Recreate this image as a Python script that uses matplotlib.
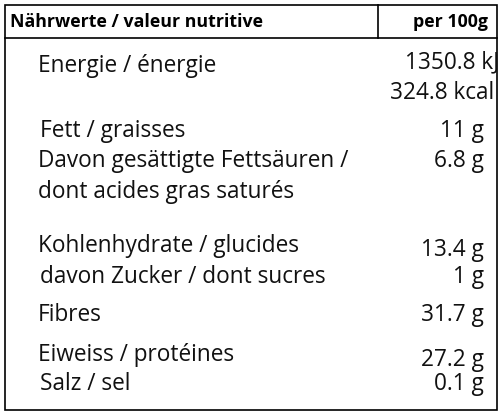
import matplotlib.pyplot as plt
from matplotlib.patches import Rectangle

plt.rcParams['font.family'] = ['Open Sans', 'DejaVu Sans']

header_left = "Nährwerte / valeur nutritive"
header_right = "per 100g"

labels = ["Energie / énergie", "Fett / graisses", "Davon gesättigte Fettsäuren /",
          "dont acides gras saturés", "Kohlenhydrate / glucides",
          "davon Zucker / dont sucres", "Fibres", "Eiweiss / protéines", "Salz / sel"]
label_x = [38, 40, 38, 38, 38, 40, 38, 38, 40]
label_y = [66, 131, 161, 192, 246, 277, 315, 355, 384]

values = ["1350.8 kJ", "324.8 kcal", "11 g", "6.8 g", "13.4 g", "1 g", "31.7 g", "27.2 g", "0.1 g"]
value_x = [499, 494, 484, 484, 484, 484, 484, 484, 484]
value_y = [62, 93, 131, 161, 250, 277, 315, 360, 384]

fig = plt.figure(figsize=(5, 4.15), dpi=100)
ax = fig.add_axes([0, 0, 1, 1])
ax.set_xlim(0, 500)
ax.set_ylim(415, 0)
ax.axis("off")

# table frame
ax.add_patch(Rectangle((5, 5), 492, 405, fill=False, lw=1.2, color="black", zorder=3))
ax.plot([5, 497], [38, 38], color="black", lw=1.2)
ax.plot([378, 378], [5, 38], color="black", lw=1.2)

ax.text(10, 22, header_left, fontsize=12.8, fontweight="bold", va="center")
ax.text(488, 22, header_right, fontsize=12.8, fontweight="bold", va="center", ha="right")

for t, x, y in zip(labels, label_x, label_y):
    ax.text(x, y, t, fontsize=16.3, va="center", color="#111111")
for t, x, y in zip(values, value_x, value_y):
    ax.text(x, y, t, fontsize=16.3, va="center", ha="right", color="#111111", clip_on=True)

fig.savefig("out.png", dpi=100)
